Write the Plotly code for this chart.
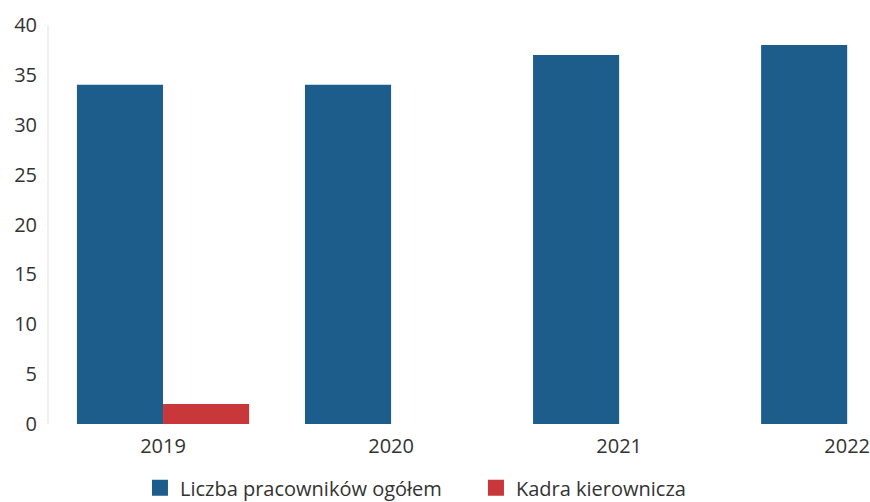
import plotly.graph_objs as go


# dane
lata = ['2019', '2020', '2021', '2022']
pracownicy_ogolem = [34, 34, 37, 38]
kadra_kierownicza = [2, 0, 0, 0]

nazwy_serii = ['Liczba pracowników ogółem', 'Kadra kierownicza']
kolory = ['#1c5d8c', '#c8373a']

font_name = 'Open Sans'

# słupki (bez legendy)
data = [
    go.Bar(
        x=lata,
        y=pracownicy_ogolem,
        name=nazwy_serii[0],
        showlegend=False,
        marker=dict(color=kolory[0], line=dict(width=0))
    ),
    go.Bar(
        x=lata,
        y=kadra_kierownicza,
        name=nazwy_serii[1],
        showlegend=False,
        marker=dict(color=kolory[1], line=dict(width=0))
    )
]

# legenda z większymi kwadratami
for nazwa, kolor in zip(nazwy_serii, kolory):
    data.append(
        go.Scatter(
            x=[None],
            y=[None],
            mode='markers',
            name=nazwa,
            marker=dict(symbol='square', size=20, color=kolor)
        )
    )

figure = go.Figure(
    data=data,
    layout=go.Layout(
        width=870,
        height=502,
        barmode='group',
        bargap=0.245,
        bargroupgap=0,
        margin=go.layout.Margin(l=49, r=0, t=25, b=78, autoexpand=False),
        paper_bgcolor='white',
        plot_bgcolor='white',
        font=dict(family=font_name, size=20, color='#333333'),
        xaxis=dict(
            type='category',
            range=[-0.5, 3.1],
            showgrid=False,
            showline=False,
            zeroline=False,
            ticks='',
            ticklabelstandoff=8,
            tickfont=dict(size=20, color='#333333')
        ),
        yaxis=dict(
            range=[0, 40],
            dtick=5,
            showgrid=False,
            zeroline=False,
            showline=True,
            linecolor='#f0f0f0',
            linewidth=2,
            ticks='',
            ticklabelstandoff=6,
            tickfont=dict(size=20, color='#333333')
        ),
        legend=dict(
            orientation='h',
            xanchor='left',
            x=0.1108,
            yanchor='middle',
            y=-0.160,
            entrywidth=291,
            font=dict(size=20, color='#333333'),
            itemsizing='trace'
        ),
        showlegend=True
    )
)

# bez domyślnego marginesu strony, żeby wykres zaczynał się w (0, 0)
figure.write_html(
    "out.html",
    config={'displayModeBar': False},
    post_script="document.body.style.margin = '0';"
)
